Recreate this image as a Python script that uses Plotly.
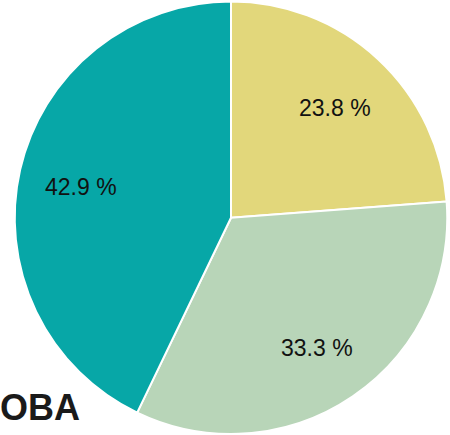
import math
import plotly.graph_objects as go

labels = ["A", "B", "C"]
values = [5, 7, 9]
colors = ["#E2D77B", "#B8D5B8", "#07A7A7"]
title_text = "OBA"

W, H = 450, 435
DOM_X = [13 / W, 449 / W]
DOM_Y = [1 / H, 1 - 1.5 / H]
LABEL_R = 0.71  # fraction of radius where percentage labels sit

total = sum(values)
pct_text = [f"{v / total * 100:.1f} %" for v in values]

fig = go.Figure(
    go.Pie(
        labels=labels,
        values=values,
        textinfo="none",
        marker=dict(colors=colors, line=dict(color="white", width=2)),
        sort=False,
        direction="clockwise",
        rotation=0,
        showlegend=False,
        domain=dict(x=DOM_X, y=DOM_Y),
        hoverinfo="skip",
    )
)

# label positions derived from the slice angles (clockwise from 12 o'clock)
dom_w = (DOM_X[1] - DOM_X[0]) * W
dom_h = (DOM_Y[1] - DOM_Y[0]) * H
radius = min(dom_w, dom_h) / 2
cx = (DOM_X[0] + DOM_X[1]) / 2 * W
cy = (DOM_Y[0] + DOM_Y[1]) / 2 * H  # from bottom
cum = 0
for v, t in zip(values, pct_text):
    mid = (cum + v / 2) / total * 2 * math.pi
    cum += v
    px = cx + LABEL_R * radius * math.sin(mid)
    py = cy + LABEL_R * radius * math.cos(mid)
    fig.add_annotation(
        text=t, x=px / W, y=py / H, xref="paper", yref="paper",
        xanchor="center", yanchor="middle", showarrow=False, yshift=-3,
        font=dict(family="Liberation Sans, Arial, sans-serif", size=23, color="#111111"),
    )

fig.add_annotation(
    text=f"<b>{title_text}</b>",
    x=0, xref="paper", xanchor="left", xshift=-2,
    y=1 - 407 / H, yref="paper", yanchor="middle",
    showarrow=False,
    font=dict(family="Liberation Sans, Arial, sans-serif", size=36, color="#1a1a1a"),
)

fig.update_layout(
    width=W, height=H,
    margin=dict(l=0, r=0, t=0, b=0),
    paper_bgcolor="white",
    plot_bgcolor="white",
)

fig.write_html(
    "out.html",
    config={"displayModeBar": False},
    post_script="document.body.style.margin='0';document.body.style.overflow='hidden';",
)
